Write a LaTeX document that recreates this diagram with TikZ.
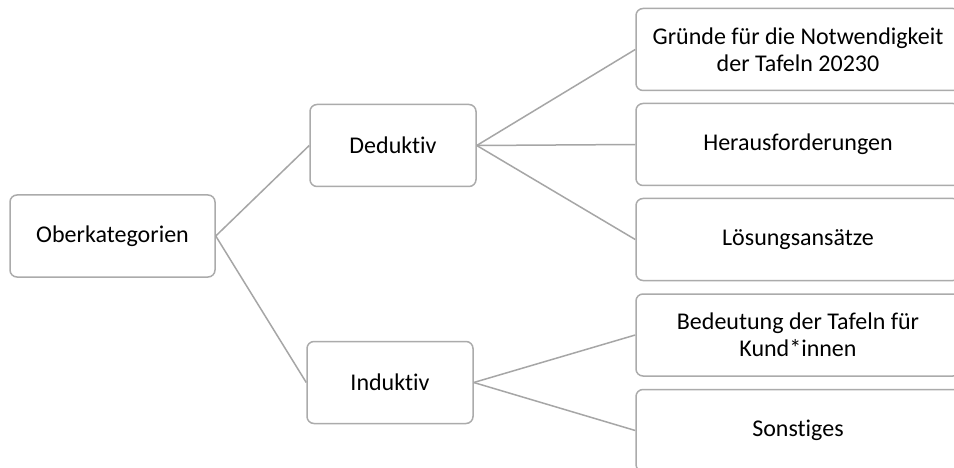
\documentclass[tikz,border=0pt]{standalone}
\usepackage{fontspec}
\setmainfont{Carlito}[Ligatures={NoCommon}]
\definecolor{linegray}{HTML}{A6A6A6}
\definecolor{boxgray}{HTML}{ABABAB}
\tikzset{
  catbox/.style={draw=boxgray, line width=1.5pt, rounded corners=7pt, fill=white,
    minimum height=82pt, align=center, inner sep=2pt,
    font=\fontsize{24}{27}\selectfont},
  link/.style={draw=linegray, line width=1.5pt}
}
\begin{document}
\begin{tikzpicture}[x=1pt,y=-1pt]
  \useasboundingbox (0,0) rectangle (954,468);
  \clip (0,0) rectangle (954,468);
  \fill[white] (0,0) rectangle (954,468);

  % root and its two branches
  \node[catbox, minimum width=205pt] (ober) at (112.5,236) {Oberkategorien};
  \node[catbox, minimum width=166pt] (ded) at (393,145.5) {Deduktiv};
  \node[catbox, minimum width=166pt] (ind) at (390,382.5) {Induktiv};

  % leaf categories (run past the right edge)
  \node[catbox, minimum width=324pt] (gruende) at (798,49.5) {Gründe für die Notwendigkeit\\der Tafeln 20230};
  \node[catbox, minimum width=324pt] (heraus) at (798,144.5) {Herausforderungen};
  \node[catbox, minimum width=324pt] (loesung) at (798,239.5) {Lösungsansätze};
  \node[catbox, minimum width=324pt] (bedeutung) at (798,335) {Bedeutung der Tafeln für\\Kund*innen};
  \node[catbox, minimum width=324pt] (sonst) at (798,430.5) {Sonstiges};

  % connectors
  \draw[link] (ober.east) -- (ded.west);
  \draw[link] (ober.east) -- (ind.west);
  \draw[link] (ded.east) -- (gruende.west);
  \draw[link] (ded.east) -- (heraus.west);
  \draw[link] (ded.east) -- (loesung.west);
  \draw[link] (ind.east) -- (bedeutung.west);
  \draw[link] (ind.east) -- (sonst.west);
\end{tikzpicture}
\end{document}
